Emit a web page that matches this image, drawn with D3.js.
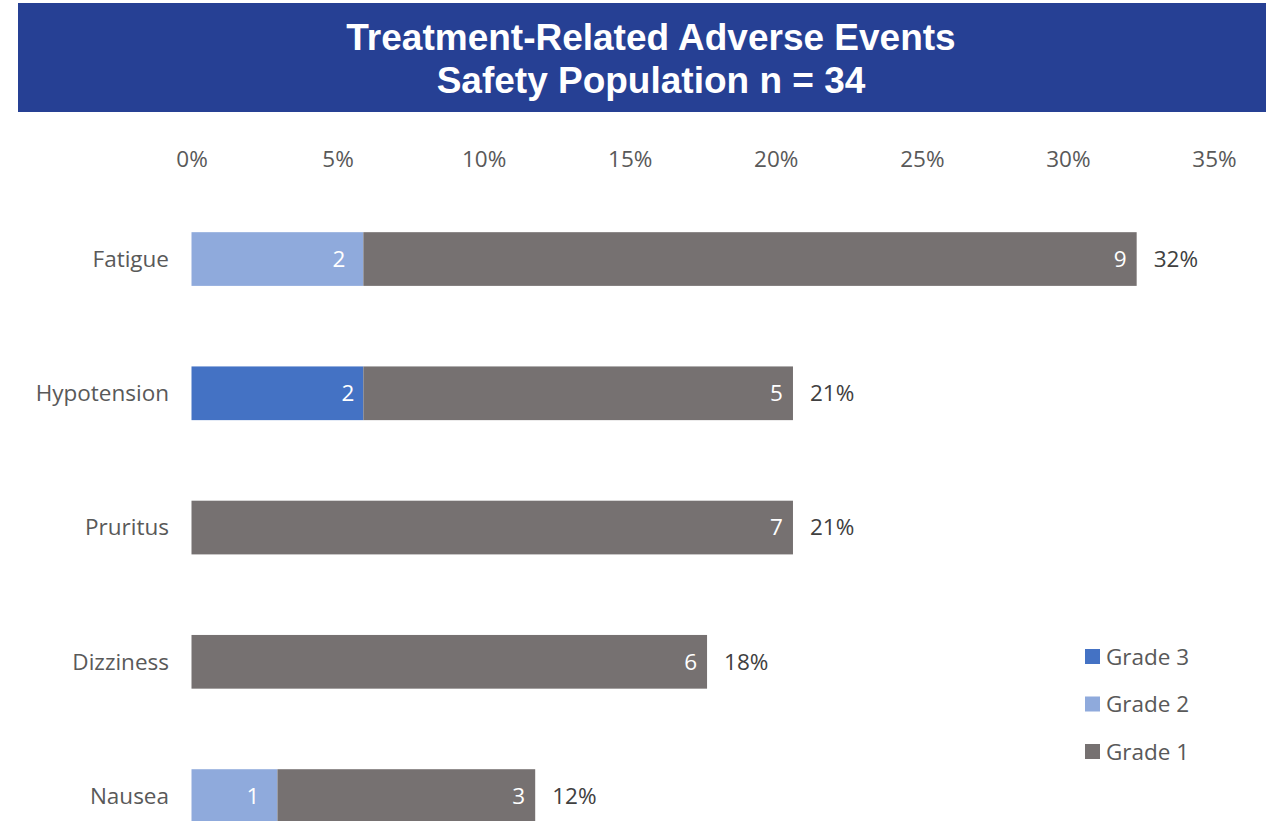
<!DOCTYPE html>
<html>
<head>
<meta charset="utf-8">
<script src="https://cdn.jsdelivr.net/npm/d3@7"></script>
<style>
  html, body { margin: 0; padding: 0; background: #fff; }
  svg { display: block; }
</style>
</head>
<body>
<svg id="chart" width="1274" height="821"></svg>
<script>
// Patient counts per adverse event, by CTCAE grade (safety population n = 34)
const categories = ["Fatigue", "Hypotension", "Pruritus", "Dizziness", "Nausea"];
const grade3 = [0, 2, 0, 0, 0];
const grade2 = [2, 0, 0, 0, 1];
const grade1 = [9, 5, 7, 6, 3];
const populationN = 34;
const tickValues = [0, 5, 10, 15, 20, 25, 30, 35];
const titleLines = ["Treatment-Related Adverse Events", "Safety Population n = 34"];

const seriesKeys = ["Grade 3", "Grade 2", "Grade 1"];
const seriesColors = { "Grade 3": "#4472C4", "Grade 2": "#8FAADC", "Grade 1": "#767171" };
// inset of the in-bar count label from the segment's right end
const labelInset = { "Grade 3": 9, "Grade 2": 18, "Grade 1": 10 };

const rows = categories.map((c, i) => ({
  category: c,
  "Grade 3": grade3[i],
  "Grade 2": grade2[i],
  "Grade 1": grade1[i]
}));

const svg = d3.select("#chart");
const labelFont = "'Open Sans', 'Noto Sans', sans-serif";
const labelSize = "22.5px";

// Title banner
svg.append("rect")
  .attr("x", 18).attr("y", 3).attr("width", 1248).attr("height", 109)
  .attr("fill", "#264094");
const title = svg.append("text")
  .attr("x", 651).attr("text-anchor", "middle")
  .attr("fill", "#fff")
  .style("font-family", "'Liberation Sans', Arial, sans-serif")
  .style("font-weight", "bold")
  .style("font-size", "37px");
title.append("tspan").attr("x", 651).attr("y", 49.5).text(titleLines[0]);
title.append("tspan").attr("x", 651).attr("y", 93).text(titleLines[1]);

// Scales
const x = d3.scaleLinear().domain([0, 35]).range([191.5, 1214]);
const y = d3.scaleBand().domain(categories)
  .range([191.9, 863.2]).paddingInner(0.6).paddingOuter(0.3);

const pct = v => v / populationN * 100;

// Top axis with percentage ticks, no domain line or tick marks
const xAxis = d3.axisTop(x).tickValues(tickValues).tickFormat(d => d + "%").tickSize(0).tickPadding(0);
const gx = svg.append("g").attr("transform", "translate(0,166.5)").call(xAxis);
gx.select(".domain").remove();
gx.selectAll("text")
  .attr("fill", "#595959")
  .attr("dy", "0")
  .style("font-family", labelFont)
  .style("font-size", labelSize);

// Category axis
const yAxis = d3.axisLeft(y).tickSize(0).tickPadding(0);
const gy = svg.append("g").attr("transform", "translate(169,0)").call(yAxis);
gy.select(".domain").remove();
gy.selectAll("text")
  .attr("fill", "#595959")
  .attr("dy", "0.35em")
  .style("font-family", labelFont)
  .style("font-size", labelSize);

// Stacked bars
const stack = d3.stack().keys(seriesKeys).value((d, k) => pct(d[k]));
const layers = stack(rows);

const layerG = svg.append("g").selectAll("g")
  .data(layers).join("g")
  .attr("fill", d => seriesColors[d.key]);

layerG.selectAll("rect")
  .data(d => d.map(s => ({ key: d.key, s })))
  .join("rect")
  .attr("x", d => x(d.s[0]))
  .attr("y", d => y(d.s.data.category))
  .attr("width", d => x(d.s[1]) - x(d.s[0]))
  .attr("height", y.bandwidth());

// In-bar count labels
layerG.selectAll("text")
  .data(d => d.map(s => ({ key: d.key, s })).filter(d => d.s.data[d.key] > 0))
  .join("text")
  .attr("x", d => x(d.s[1]) - labelInset[d.key])
  .attr("y", d => y(d.s.data.category) + y.bandwidth() / 2)
  .attr("dy", "0.35em")
  .attr("text-anchor", "end")
  .attr("fill", "#fff")
  .style("font-family", labelFont)
  .style("font-size", labelSize)
  .text(d => d.s.data[d.key]);

// Total percentage labels
svg.append("g").selectAll("text")
  .data(rows).join("text")
  .attr("x", d => x(pct(d["Grade 3"] + d["Grade 2"] + d["Grade 1"])) + 17)
  .attr("y", d => y(d.category) + y.bandwidth() / 2)
  .attr("dy", "0.35em")
  .attr("fill", "#404040")
  .style("font-family", labelFont)
  .style("font-size", labelSize)
  .text(d => Math.round(pct(d["Grade 3"] + d["Grade 2"] + d["Grade 1"])) + "%");

// Legend
const legend = svg.append("g").selectAll("g")
  .data(seriesKeys).join("g")
  .attr("transform", (d, i) => `translate(1085,${657 + i * 47.5})`);
legend.append("rect")
  .attr("x", 0).attr("y", -8).attr("width", 15).attr("height", 15)
  .attr("fill", d => seriesColors[d]);
legend.append("text")
  .attr("x", 21).attr("y", 0).attr("dy", "0.35em")
  .attr("fill", "#595959")
  .style("font-family", labelFont)
  .style("font-size", labelSize)
  .text(d => d);
</script>
</body>
</html>
